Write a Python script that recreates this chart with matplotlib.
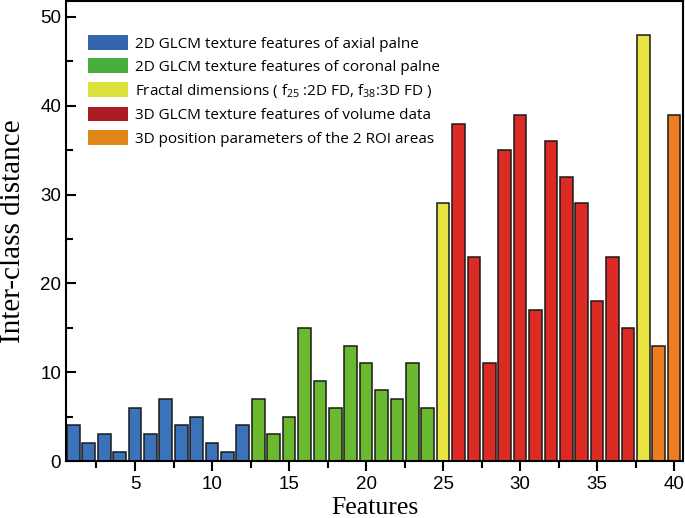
import matplotlib
matplotlib.use("Agg")
import matplotlib.pyplot as plt
from matplotlib.patches import Patch
from matplotlib.ticker import MultipleLocator

features = list(range(1, 41))
values = [4, 2, 3, 1, 6, 3, 7, 4, 5, 2, 1, 4,
          7, 3, 5, 15, 9, 6, 13, 11, 8, 7, 11, 6,
          29,
          38, 23, 11, 35, 39, 17, 36, 32, 29, 18, 23, 15,
          48,
          13, 39]
groups = [0]*12 + [1]*12 + [2] + [3]*12 + [2] + [4]*2

bar_colors = ["#3a73b9", "#6ab92e", "#e8e442", "#dc2a24", "#ee7d1f"]
legend_colors = ["#3565ad", "#4aae3f", "#dde23a", "#a81c22", "#e0871a"]
legend_labels = [
    "2D GLCM texture features of axial palne",
    "2D GLCM texture features of coronal palne",
    "Fractal dimensions ( f$_{25}$ :2D FD, f$_{38}$:3D FD )",
    "3D GLCM texture features of volume data",
    "3D position parameters of the 2 ROI areas",
]

plt.rcParams['mathtext.fontset'] = 'custom'
plt.rcParams['mathtext.rm'] = 'Open Sans'
plt.rcParams['mathtext.it'] = 'Open Sans'

fig = plt.figure(figsize=(6.85, 5.18), dpi=100)
ax = fig.add_axes([66/685, 1 - 461/518, (683-66)/685, (461-1)/518])

ax.bar(features, values, width=0.82, color=[bar_colors[g] for g in groups],
       edgecolor="#1a1a1a", linewidth=1.1, zorder=2)

ax.set_xlim(0.52, 40.58)
ax.set_ylim(0, 51.8)
ax.xaxis.set_major_locator(MultipleLocator(5))
ax.xaxis.set_minor_locator(MultipleLocator(2.5))
ax.yaxis.set_major_locator(MultipleLocator(10))
ax.yaxis.set_minor_locator(MultipleLocator(5))
ax.tick_params(axis='x', which='both', direction='out', top=True, labeltop=False)
ax.tick_params(axis='y', which='both', direction='in', right=False)
ax.tick_params(which='major', length=7, width=1.5)
ax.tick_params(which='minor', length=5, width=1.5)
for s in ax.spines.values():
    s.set_linewidth(1.5)
for lab in ax.get_xticklabels() + ax.get_yticklabels():
    lab.set_fontfamily('Liberation Sans')
    lab.set_fontsize(13.5)

ax.set_xlabel("Features", fontfamily='Liberation Serif', fontsize=18.5, labelpad=3)
ax.set_ylabel("Inter-class distance", fontfamily='Liberation Serif', fontsize=21, labelpad=10)

handles = [Patch(facecolor=c, edgecolor='none') for c in legend_colors]
leg = ax.legend(handles, legend_labels, loc='upper left',
                bbox_to_anchor=((88-66)/617, (461-35)/460),
                frameon=False, handlelength=2.6, handleheight=1.1, handletextpad=0.45,
                labelspacing=0.45, borderpad=0, borderaxespad=0,
                prop={'family': 'Open Sans', 'size': 11})

fig.savefig("out.png", dpi=100)
